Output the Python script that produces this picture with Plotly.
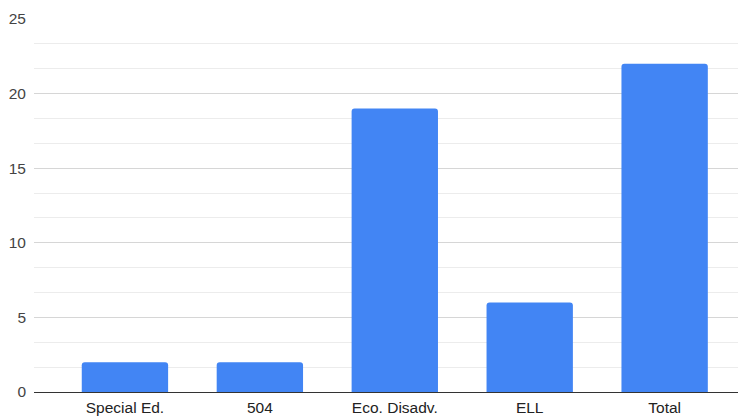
import plotly.graph_objects as go

categories = ["Special Ed.", "504", "Eco. Disadv.", "ELL", "Total"]
values = [2, 2, 19, 6, 22]
y_ticks = [0, 5, 10, 15, 20, 25]

# page body has an 8px default margin, so the figure is offset by 8px
fig = go.Figure(go.Bar(
    x=list(range(len(categories))), y=values,
    marker=dict(color="#4285F4", line=dict(width=0)),
    hoverinfo="skip",
))
fig.update_layout(
    width=738, height=411,
    margin=dict(l=26, r=0, t=11, b=27, autoexpand=False),
    plot_bgcolor="white", paper_bgcolor="white",
    bargap=0.36, barcornerradius=3,
    showlegend=False,
    font=dict(family="Liberation Sans, Arial, sans-serif", size=15.5, color="#444444"),
)
fig.update_xaxes(
    range=[-0.674, 4.603],
    tickmode="array", tickvals=list(range(len(categories))), ticktext=categories,
    showgrid=False, zeroline=False, showline=False, ticks="",
    tickfont=dict(size=15.5, color="#222222"),
    ticklabelstandoff=4,
    automargin=False,
)
fig.update_yaxes(
    range=[0, 25], tickmode="array", tickvals=y_ticks,
    showgrid=True, gridcolor="#d6d6d6", gridwidth=1,
    minor=dict(tickmode="linear", tick0=0, dtick=5/3, showgrid=True, gridcolor="#ececec", gridwidth=1),
    zeroline=True, zerolinecolor="#333333", zerolinewidth=1,
    showline=False, ticks="", ticklabelstandoff=7,
    tickfont=dict(size=15.5, color="#444444"),
    automargin=False,
)
fig.write_html("out.html")
